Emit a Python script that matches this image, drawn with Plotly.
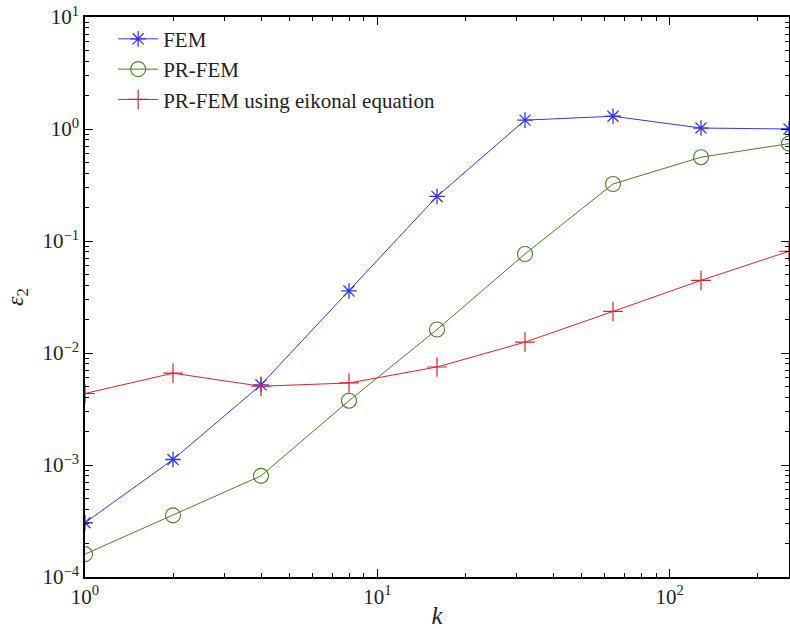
import plotly.graph_objects as go

k = [1, 2, 4, 8, 16, 32, 64, 128, 256]
fem = [3.05e-4, 1.12e-3, 5.2e-3, 0.0358, 0.25, 1.2, 1.3, 1.02, 1.0]
prfem = [1.6e-4, 3.55e-4, 8.0e-4, 3.75e-3, 0.0162, 0.0766, 0.323, 0.56, 0.74]
eik = [4.35e-3, 6.6e-3, 5.05e-3, 5.4e-3, 7.5e-3, 0.0125, 0.0235, 0.0445, 0.081]

x_tickvals = [1, 10, 100]
x_ticktext = ["10<sup>0</sup>", "10<sup>1</sup>", "10<sup>2</sup>"]
y_tickvals = [1e-4, 1e-3, 1e-2, 1e-1, 1, 10]
y_ticktext = ["10<sup>−4</sup>", "10<sup>−3</sup>", "10<sup>−2</sup>",
              "10<sup>−1</sup>", "10<sup>0</sup>", "10<sup>1</sup>"]
x_minor = [m * 10 ** d for d in range(0, 3) for m in range(2, 10) if m * 10 ** d <= 256]
y_minor = [m * 10.0 ** d for d in range(-4, 1) for m in range(2, 10)]

FONT = "Liberation Serif"

fig = go.Figure()
fig.add_trace(go.Scatter(x=k, y=fem, mode="lines+markers", name="FEM",
                         line=dict(color="#3535ff", width=1),
                         marker=dict(symbol="asterisk-open", size=13,
                                     line=dict(color="#3535ff", width=1.3))))
fig.add_trace(go.Scatter(x=k, y=prfem, mode="lines+markers", name="PR-FEM",
                         line=dict(color="#4a7f25", width=1),
                         marker=dict(symbol="circle-open", size=15,
                                     line=dict(color="#4a7f25", width=1.1))))
fig.add_trace(go.Scatter(x=k, y=eik, mode="lines+markers",
                         name="PR-FEM using eikonal equation",
                         line=dict(color="#d8242c", width=1),
                         marker=dict(symbol="cross-thin-open", size=14,
                                     line=dict(color="#d8242c", width=1.2))))

axis_common = dict(type="log", showgrid=False, zeroline=False, automargin=False,
                   showline=True, linecolor="black", linewidth=1.5,
                   mirror="allticks", ticks="inside", ticklen=8,
                   tickcolor="black", tickwidth=1.2,
                   tickfont=dict(family=FONT, size=21, color="#222"))

fig.update_xaxes(range=[0, 2.4082], tickvals=x_tickvals, ticktext=x_ticktext,
                 minor=dict(tickvals=x_minor, ticks="inside", ticklen=4,
                            tickcolor="black", tickwidth=1, showgrid=False),
                 title=dict(text="<i>k</i>", font=dict(family=FONT, size=25, color="#222"),
                            standoff=8),
                 **axis_common)
fig.update_yaxes(range=[-4, 1], tickvals=y_tickvals, ticktext=y_ticktext,
                 minor=dict(tickvals=y_minor, ticks="inside", ticklen=4,
                            tickcolor="black", tickwidth=1, showgrid=False),
                 title=dict(text="<i>ε</i><sub>2</sub>", font=dict(family=FONT, size=24, color="#222"),
                            standoff=12),
                 **axis_common)

fig.update_layout(
    width=790, height=629,
    margin=dict(l=85, r=1, t=17, b=52),
    plot_bgcolor="white", paper_bgcolor="white",
    font=dict(family=FONT, color="#222"),
    showlegend=True,
    legend=dict(x=0.04, y=0.997, xanchor="left", yanchor="top",
                bgcolor="rgba(0,0,0,0)", borderwidth=0,
                font=dict(family=FONT, size=21, color="#222"),
                itemwidth=40, tracegroupgap=0),
)

fig.write_html("out.html", config={"displayModeBar": False},
               post_script="document.body.style.margin='0';document.body.style.overflow='hidden';")
